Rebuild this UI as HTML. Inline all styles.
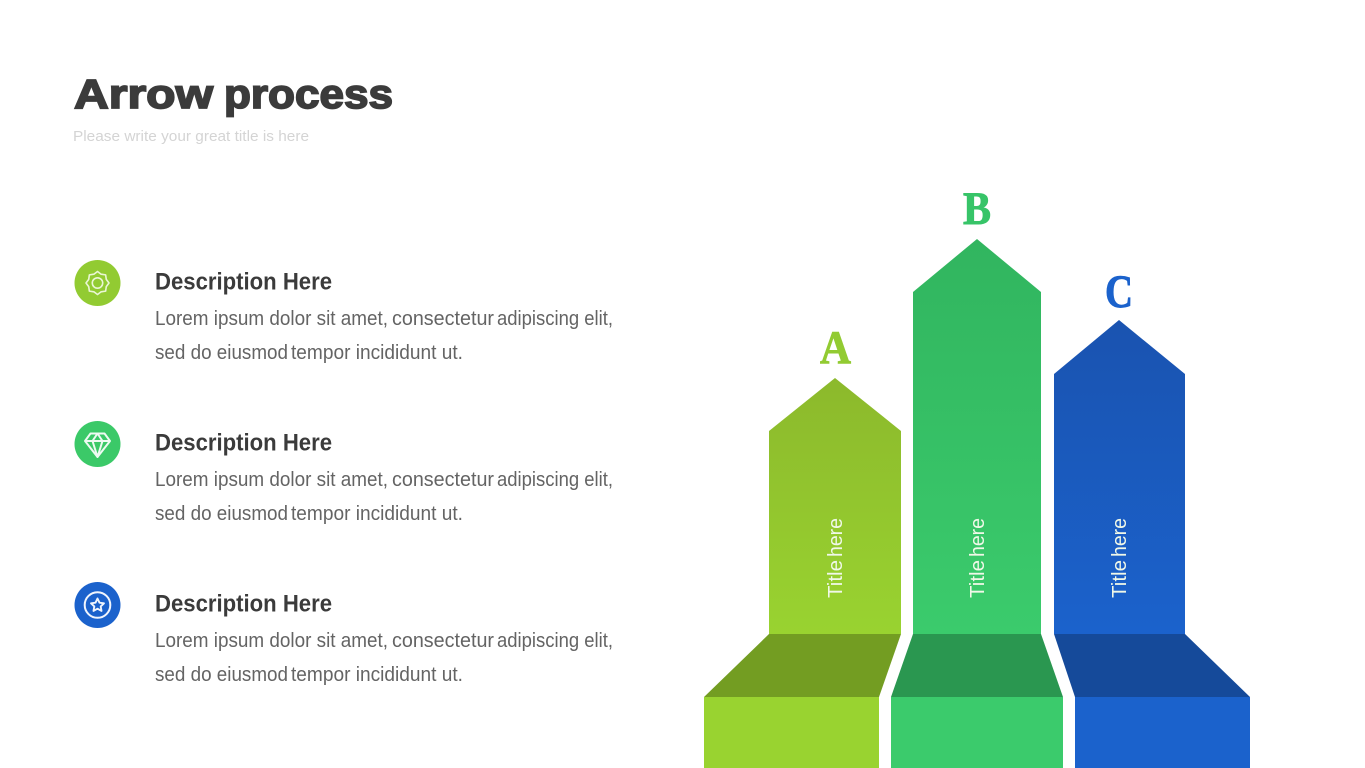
<!DOCTYPE html>
<html>
<head>
<meta charset="utf-8">
<style>
html,body{margin:0;padding:0;background:#fff;width:1365px;height:768px;overflow:hidden}
svg{display:block}
text{font-family:"Liberation Sans",sans-serif}
.h{font-size:24px;font-weight:bold;fill:#3b3b3b}
.b{font-size:20.5px;fill:#646464}
.l{font-family:"Liberation Serif",serif;font-size:47px;font-weight:bold;stroke-width:.9}
.t{font-size:20px;fill:#f0f8e8}
</style>
</head>
<body>
<svg width="1365" height="768" viewBox="0 0 1365 768" xmlns="http://www.w3.org/2000/svg">
<defs>
<linearGradient id="ga" x1="0" y1="0" x2="0" y2="1"><stop offset="0" stop-color="#8cb92c"/><stop offset="1" stop-color="#99d330"/></linearGradient>
<linearGradient id="gb" x1="0" y1="0" x2="0" y2="1"><stop offset="0" stop-color="#31b55f"/><stop offset="1" stop-color="#3bcb6c"/></linearGradient>
<linearGradient id="gc" x1="0" y1="0" x2="0" y2="1"><stop offset="0" stop-color="#1a53b0"/><stop offset="1" stop-color="#1b62cc"/></linearGradient>
</defs>

<text x="74" y="108" font-size="41" font-weight="bold" fill="#3b3b3b" stroke="#3b3b3b" stroke-width="1.7" textLength="139" lengthAdjust="spacingAndGlyphs">Arrow</text>
<text x="224" y="108" font-size="41" font-weight="bold" fill="#3b3b3b" stroke="#3b3b3b" stroke-width="1.7" textLength="169" lengthAdjust="spacingAndGlyphs">process</text>
<text x="73" y="141" font-size="15" fill="#d4d4d4" textLength="236" lengthAdjust="spacingAndGlyphs">Please write your great title is here</text>

<circle cx="97.5" cy="283" r="23" fill="#92cb32"/>
<g fill="none" stroke="#eaf6d5" stroke-width="1.6" stroke-linejoin="round">
<circle cx="97.5" cy="283" r="5.2"/>
<polygon points="109,283 106.28,286.64 105.63,291.13 101.14,291.78 97.5,294.5 93.86,291.78 89.37,291.13 88.72,286.64 86,283 88.72,279.36 89.37,274.87 93.86,274.22 97.5,271.5 101.14,274.22 105.63,274.87 106.28,279.36"/>
</g>

<circle cx="97.5" cy="444" r="23" fill="#3bc968"/>
<g fill="none" stroke="#eefaf2" stroke-width="2" stroke-linejoin="round">
<path d="M90.500 433.500h14l5.500 7.500-12.500 16-12.500-16z"/>
<path d="M85 441h25M92.500 441l5 16 5-16-5-7.500z"/>
</g>

<circle cx="97.5" cy="605" r="23" fill="#1b62cc"/>
<g fill="none" stroke="#f0f5fd">
<circle cx="97.5" cy="605" r="12.800" stroke-width="2"/>
<path d="M97.500 598.500l2 4.200 4.500.6-3.300 3.100.8 4.500-4-2.200-4 2.200.8-4.500-3.300-3.100 4.500-.6z" stroke-width="1.900" stroke-linejoin="round"/>
</g>

<g>
<text class="h" x="155" y="289.500" textLength="177" lengthAdjust="spacingAndGlyphs">Description Here</text>
<text class="b" x="155" y="325" textLength="233" lengthAdjust="spacingAndGlyphs">Lorem ipsum dolor sit amet,</text>
<text class="b" x="392" y="325" textLength="102" lengthAdjust="spacingAndGlyphs">consectetur</text>
<text class="b" x="497" y="325" textLength="116" lengthAdjust="spacingAndGlyphs">adipiscing elit,</text>
<text class="b" x="155" y="359" textLength="133" lengthAdjust="spacingAndGlyphs">sed do eiusmod</text>
<text class="b" x="291" y="359" textLength="172" lengthAdjust="spacingAndGlyphs">tempor incididunt ut.</text>
</g>
<g transform="translate(0,161)">
<text class="h" x="155" y="289.500" textLength="177" lengthAdjust="spacingAndGlyphs">Description Here</text>
<text class="b" x="155" y="325" textLength="233" lengthAdjust="spacingAndGlyphs">Lorem ipsum dolor sit amet,</text>
<text class="b" x="392" y="325" textLength="102" lengthAdjust="spacingAndGlyphs">consectetur</text>
<text class="b" x="497" y="325" textLength="116" lengthAdjust="spacingAndGlyphs">adipiscing elit,</text>
<text class="b" x="155" y="359" textLength="133" lengthAdjust="spacingAndGlyphs">sed do eiusmod</text>
<text class="b" x="291" y="359" textLength="172" lengthAdjust="spacingAndGlyphs">tempor incididunt ut.</text>
</g>
<g transform="translate(0,322)">
<text class="h" x="155" y="289.500" textLength="177" lengthAdjust="spacingAndGlyphs">Description Here</text>
<text class="b" x="155" y="325" textLength="233" lengthAdjust="spacingAndGlyphs">Lorem ipsum dolor sit amet,</text>
<text class="b" x="392" y="325" textLength="102" lengthAdjust="spacingAndGlyphs">consectetur</text>
<text class="b" x="497" y="325" textLength="116" lengthAdjust="spacingAndGlyphs">adipiscing elit,</text>
<text class="b" x="155" y="359" textLength="133" lengthAdjust="spacingAndGlyphs">sed do eiusmod</text>
<text class="b" x="291" y="359" textLength="172" lengthAdjust="spacingAndGlyphs">tempor incididunt ut.</text>
</g>

<polygon points="835,378 901,431 901,634 769,634 769,431" fill="url(#ga)"/>
<polygon points="977,239 1041,292 1041,634 913,634 913,292" fill="url(#gb)"/>
<polygon points="1119,320 1185,374 1185,634 1054,634 1054,374" fill="url(#gc)"/>

<polygon points="769,634 901,634 879,697 704,697" fill="#739d22"/>
<polygon points="913,634 1041,634 1063,697 891,697" fill="#2a9750"/>
<polygon points="1054,634 1185,634 1250,697 1075,697" fill="#154a9a"/>

<rect x="704" y="697" width="175" height="71" fill="#99d330"/>
<rect x="891" y="697" width="172" height="71" fill="#3bcb6c"/>
<rect x="1075" y="697" width="175" height="71" fill="#1b62cc"/>

<text class="l" x="820" y="363" textLength="31" lengthAdjust="spacingAndGlyphs" fill="#92cb32" stroke="#92cb32">A</text>
<text class="l" x="963" y="224" textLength="28" lengthAdjust="spacingAndGlyphs" fill="#37c468" stroke="#37c468">B</text>
<text class="l" x="1105" y="307" textLength="28" lengthAdjust="spacingAndGlyphs" fill="#1b62cc" stroke="#1b62cc">C</text>

<g>
<text class="t" transform="translate(842,598) rotate(-90)" textLength="38" lengthAdjust="spacingAndGlyphs">Title</text>
<text class="t" transform="translate(842,557) rotate(-90)" textLength="39" lengthAdjust="spacingAndGlyphs">here</text>
</g>
<g transform="translate(142,0)">
<text class="t" transform="translate(842,598) rotate(-90)" textLength="38" lengthAdjust="spacingAndGlyphs">Title</text>
<text class="t" transform="translate(842,557) rotate(-90)" textLength="39" lengthAdjust="spacingAndGlyphs">here</text>
</g>
<g transform="translate(284,0)">
<text class="t" transform="translate(842,598) rotate(-90)" textLength="38" lengthAdjust="spacingAndGlyphs">Title</text>
<text class="t" transform="translate(842,557) rotate(-90)" textLength="39" lengthAdjust="spacingAndGlyphs">here</text>
</g>
</svg>
</body>
</html>
